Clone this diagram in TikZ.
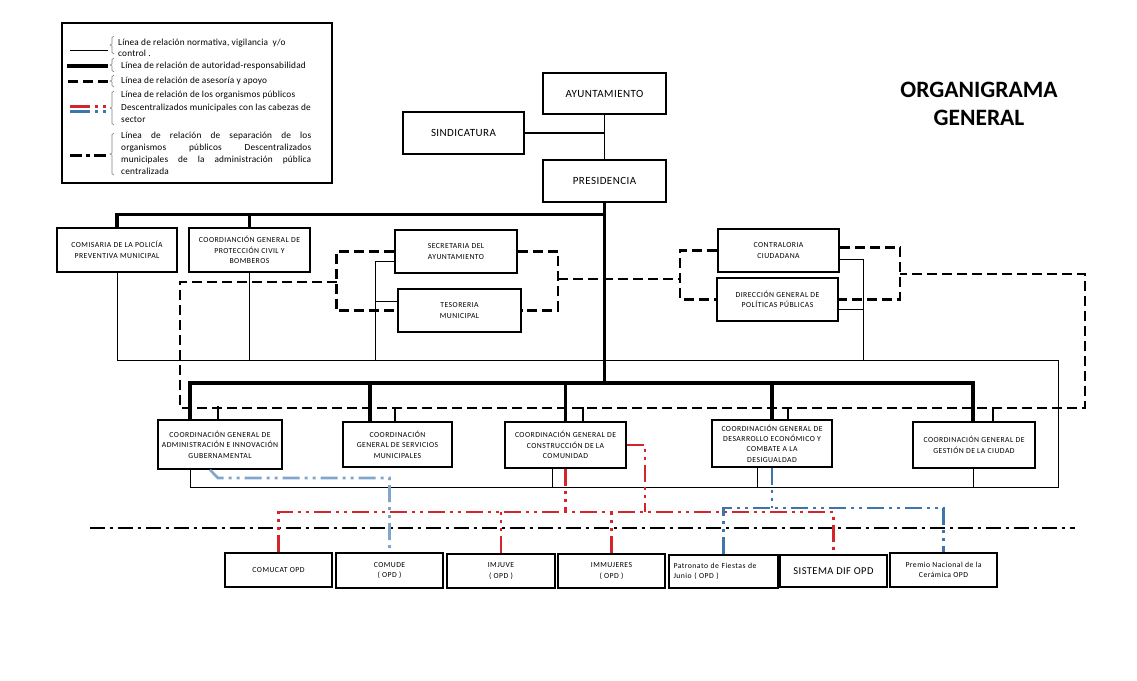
\documentclass[tikz,border=0pt]{standalone}
\usepackage{fontspec}
\setmainfont{Carlito}
\newfontfamily\bxfont[LetterSpace=6]{Carlito}
\newfontfamily\tpfont[LetterSpace=4]{Carlito}
\newfontfamily\lgfont[LetterSpace=2]{Carlito}
\definecolor{ored}{RGB}{212,36,44}
\definecolor{oblue}{RGB}{62,118,172}
\definecolor{lblue}{RGB}{128,166,204}
\newcommand\legbrace[2]{\draw[gray,line width=0.6pt] (114,#1) -- (112,#1+1.5) -- (112,{(#1+#2)/2-1}) -- (110,{(#1+#2)/2}) -- (112,{(#1+#2)/2+1}) -- (112,#2-1.5) -- (114,#2);}
\begin{document}
\begin{tikzpicture}[x=1pt,y=-1pt,
  bx/.style={draw,line width=1.7pt,inner sep=1pt,align=center,font=\bxfont\fontsize{7.7}{10.4}\selectfont},
  tp/.style={bx,font=\tpfont\fontsize{11}{13}\selectfont},
  thinl/.style={line width=0.8pt},
  thickl/.style={line width=3.6pt},
  medl/.style={line width=1.8pt},
  dshl/.style={line width=2.8pt,dash pattern=on 10pt off 5pt},
  stubl/.style={line width=2.6pt},
  opdl/.style={line width=2.6pt,dash pattern=on 17pt off 5pt on 3pt off 5pt on 3pt off 5pt},
  sepl/.style={line width=2.6pt,dash pattern=on 15pt off 5pt on 3pt off 5pt},
  legt/.style={anchor=west,inner sep=0pt,font=\lgfont\fontsize{9.3}{11.5}\selectfont},
]
\fill[white] (0,0) rectangle (1137,680);
\useasboundingbox (0,0) rectangle (1137,680);

% ---------- legend ----------
\node[draw,line width=1.7pt,minimum width=270pt,minimum height=160pt,inner sep=0pt] (leg) at (197,103) {};
\coordinate (l1a) at (70,50);  \coordinate (l1b) at (108,50);
\coordinate (l2a) at (67,66);  \coordinate (l2b) at (108,66);
\coordinate (l3a) at (68,81);  \coordinate (l3b) at (108,81);
\coordinate (l4a) at (70,106); \coordinate (l4b) at (108,106);
\coordinate (l5a) at (70,111); \coordinate (l5b) at (108,111);
\coordinate (l6a) at (70,155); \coordinate (l6b) at (106,155);
\draw[thinl] (l1a) -- (l1b);
\draw[line width=4pt] (l2a) -- (l2b);
\draw[line width=3pt,dash pattern=on 10pt off 5pt] (l3a) -- (l3b);
\draw[ored,line width=3pt,dash pattern=on 20pt off 5pt on 3pt off 5pt on 3pt off 5pt] (l4a) -- (l4b);
\draw[oblue,line width=3pt,dash pattern=on 20pt off 5pt on 3pt off 5pt on 3pt off 5pt] (l5a) -- (l5b);
\draw[line width=3pt,dash pattern=on 12pt off 4pt on 4pt off 4pt] (l6a) -- (l6b);
\legbrace{36}{54}
\legbrace{58}{72}
\legbrace{75}{87}
\legbrace{91}{125}
\legbrace{133}{175}
\node[legt] (t1a) at (118,43) {Línea de relación normativa, vigilancia\ \ y/o};
\node[legt] (t1b) at (118,53) {control .};
\node[legt] (t2) at (121,66) {Línea de relación de autoridad-responsabilidad};
\node[legt] (t3) at (121,81) {Línea de relación de asesoría y apoyo};
\node[legt] (t4a) at (121,95) {Línea de relación de los organismos públicos};
\node[legt] (t4b) at (121,108) {Descentralizados municipales con las cabezas de};
\node[legt] (t4c) at (121,120) {sector};
\node[legt] (t5a) at (121,136) {\makebox[190pt][s]{Línea de relación de separación de los}};
\node[legt] (t5b) at (121,148) {\makebox[190pt][s]{organismos públicos Descentralizados}};
\node[legt] (t5c) at (121,160) {\makebox[190pt][s]{municipales de la administración pública}};
\node[legt] (t5d) at (121,171) {centralizada};

% ---------- title ----------
\node[font=\bfseries\fontsize{23.5}{28}\selectfont,align=center,inner sep=0pt] (title) at (979,104) {ORGANIGRAMA\\GENERAL};

% ---------- boxes ----------
\node[tp,minimum width=123pt,minimum height=41pt] (ayunt) at (604.5,93.5) {AYUNTAMIENTO};
\node[tp,minimum width=121pt,minimum height=42pt] (sind) at (463.5,133) {SINDICATURA};
\node[tp,minimum width=123pt,minimum height=42pt] (pres) at (604.5,181) {PRESIDENCIA};

\node[bx,minimum width=120pt,minimum height=44pt] (comis) at (117,250) {COMISARIA DE LA POLICÍA\\PREVENTIVA MUNICIPAL};
\node[bx,minimum width=121pt,minimum height=44pt] (protec) at (249.5,250) {COORDIANCIÓN GENERAL DE\\PROTECCIÓN CIVIL Y\\BOMBEROS};
\node[bx,minimum width=122pt,minimum height=43pt] (secre) at (456,251.5) {SECRETARIA DEL\\AYUNTAMIENTO};
\node[bx,minimum width=123pt,minimum height=43pt] (tesor) at (459.5,310.5) {TESORERIA\\MUNICIPAL};
\node[bx,minimum width=121pt,minimum height=43pt] (contra) at (778.5,250.5) {CONTRALORIA\\CIUDADANA};
\node[bx,minimum width=121pt,minimum height=43pt] (direc) at (777.5,299.5) {DIRECCIÓN GENERAL DE\\POLÍTICAS PÚBLICAS};

\node[bx,minimum width=124pt,minimum height=49pt] (c1) at (220,444.5) {COORDINACIÓN GENERAL DE\\ADMINISTRACIÓN E INNOVACIÓN\\GUBERNAMENTAL};
\node[bx,minimum width=109pt,minimum height=45pt] (c2) at (397.5,444.5) {COORDINACIÓN\\GENERAL DE SERVICIOS\\MUNICIPALES};
\node[bx,minimum width=121pt,minimum height=46pt] (c3) at (565.5,445) {COORDINACIÓN GENERAL DE\\CONSTRUCCIÓN DE LA\\COMUNIDAD};
\node[bx,minimum width=120pt,minimum height=47pt] (c4) at (772,443.5) {COORDINACIÓN GENERAL DE\\DESARROLLO ECONÓMICO Y\\COMBATE A LA\\DESIGUALDAD};
\node[bx,minimum width=122pt,minimum height=46pt] (c5) at (974,445) {COORDINACIÓN GENERAL DE\\GESTIÓN DE LA CIUDAD};

\node[bx,minimum width=107pt,minimum height=34pt] (o1) at (278.5,570) {COMUCAT OPD};
\node[bx,minimum width=107pt,minimum height=35pt] (o2) at (389.5,570.5) {COMUDE\\( OPD )};
\node[bx,minimum width=108pt,minimum height=34pt] (o3) at (501,571) {IMJUVE\\( OPD )};
\node[bx,minimum width=107pt,minimum height=34pt] (o4) at (611.5,571) {IMMUJERES\\( OPD )};
\node[bx,minimum width=109pt,minimum height=33pt,align=left,text width=100pt] (o5) at (723.5,571.5) {Patronato de Fiestas de\\Junio ( OPD )};
\node[bx,minimum width=107pt,minimum height=32pt,font=\tpfont\fontsize{10.5}{12}\selectfont] (o6) at (833.5,571) {SISTEMA DIF OPD};
\node[bx,minimum width=107pt,minimum height=34pt] (o7) at (943.5,570) {Premio Nacional de la\\Cerámica OPD};

% ---------- helper coordinates ----------
\coordinate (tb) at (604.5,214.5);
\coordinate (bb) at (604.5,383);
\coordinate (hl) at (0,360);
\coordinate (hb) at (0,487);
\coordinate (rl) at (0,512);
\coordinate (bl) at (0,508);
\coordinate (lb) at (0,478);
\coordinate (c1t) at ([xshift=-30pt]c1.north);
\coordinate (c2t) at ([xshift=-27.5pt]c2.north);
\coordinate (c5t) at ([xshift=-1pt]c5.north);

% ---------- authority (thick) ----------
\draw[medl] (ayunt.south) -- (pres.north);
\draw[medl] (sind.east) -- (sind.east -| ayunt.south);
\draw[thickl] (pres.south) -- (bb);
\draw[thickl] (comis.north) |- (tb);
\draw[thickl] (protec.north) -- (protec.north |- tb);
\draw[thickl] (c1t) |- (c5t |- bb) -- (c5t);
\draw[thickl] (c2t) -- (c2t |- bb);
\draw[thickl] (c3.north) -- (c3.north |- bb);
\draw[thickl] (c4.north) -- (c4.north |- bb);

% ---------- advisory (dashed) ----------
\coordinate (sl1) at (337,282);
\coordinate (sl2) at (180,282);
\coordinate (sl3) at (180,408);
\coordinate (sl4) at (1085,408);
\coordinate (sl5) at (1085,274);
\coordinate (sl6) at (900,274);
\coordinate (mid1) at (558,279);
\coordinate (mid2) at (680,279);
\draw[dshl] (secre.west) -- ++(-58,0) |- (tesor.west);
\draw[dshl] (sl1) -- (sl2) -- (sl3) -- (sl4) -- (sl5) -- (sl6);
\draw[dshl] (secre.east) -- (558,251.5) |- (tesor.east);
\draw[dshl] (mid1) -- (mid2);
\draw[dshl] (contra.west) -- (680,250.5) |- (direc.west);
\draw[dshl] ([yshift=3pt]contra.east) -- (900,247.5) |- (direc.east);
\draw[stubl] ([xshift=-2pt]c1.north) -- ++(0,-13);
\draw[stubl] ([xshift=-2.5pt]c2.north) -- ++(0,-14);
\draw[stubl] ([xshift=17.5pt]c3.north) -- ++(0,-14);
\draw[stubl] ([xshift=16pt]c4.north) -- ++(0,-12);
\draw[stubl] ([xshift=19pt]c5.north) -- ++(0,-14);

% ---------- normative (thin) ----------
\draw[thinl] (comis.south) -- (comis.south |- hl) -- (1058,360) -- (1058,487) -- ([xshift=-30pt]c1.south |- hb) -- ([xshift=-30pt]c1.south);
\draw[thinl] (protec.south) -- (protec.south |- hl);
\draw[thinl] ([yshift=-10pt]secre.west) -| (375,360);
\draw[thinl] ([yshift=9.5pt]tesor.west) -- (375,301);
\draw[thinl] ([yshift=-8.5pt]contra.east) -| (863,360);
\draw[thinl] ([yshift=-9.5pt]direc.east) -- (863,309);
\draw[thinl] ([xshift=-13.5pt]c3.south) -- ([xshift=-13.5pt]c3.south |- hb);
\draw[thinl] ([xshift=-15pt]c4.south) -- ([xshift=-15pt]c4.south |- hb);
\draw[thinl] ([xshift=-1pt]c5.south) -- ([xshift=-1pt]c5.south |- hb);

% ---------- separation line ----------
\coordinate (sa) at (90,528);
\coordinate (sb) at (1075,528);
\draw[sepl] (sa) -- (sb);

% ---------- OPD relations ----------
\draw[opdl,ored] (c3.south) -- (c3.south |- rl);
\draw[opdl,ored] (o1.north) -- (o1.north |- rl) -- (o6.north |- rl) -- (o6.north);
\draw[opdl,ored] (o3.north) -- (o3.north |- rl);
\draw[opdl,ored] (o4.north) -- (o4.north |- rl);
\draw[opdl,ored] (c3.east) -- (645,445) -- (645,512);
\draw[opdl,oblue] (c4.south) -- (c4.south |- bl);
\draw[opdl,oblue] (o5.north) -- (o5.north |- bl) -- (o7.north |- bl) -- (o7.north);
\draw[opdl,lblue] ([xshift=-10pt]c1.south) -- (218,478) -- (o2.north |- lb) -- (o2.north);
\end{tikzpicture}
\end{document}
